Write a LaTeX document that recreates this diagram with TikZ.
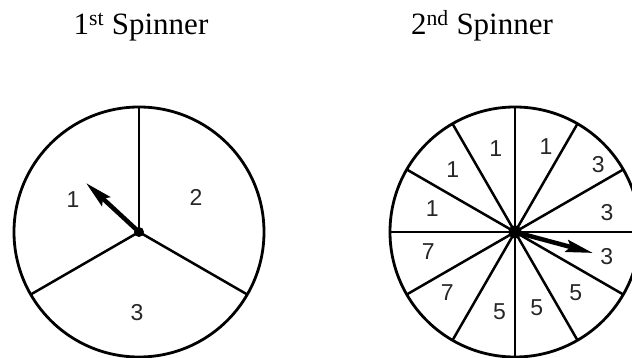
\documentclass[tikz,border=0pt]{standalone}
\usepackage{fontspec}
\setmainfont{Liberation Serif}
\newfontfamily\digitfont{Liberation Sans}
\usepackage{tikz}
\usetikzlibrary{arrows.meta}

\begin{document}
\begin{tikzpicture}[
  x=1pt, y=1pt,
  >={Stealth[length=27pt, width=12pt, inset=4pt]},
  title/.style={font=\fontsize{31}{31}\selectfont, anchor=base},
  wheel/.style={draw=black, line width=2.8pt, circle, minimum size=250pt,
    inner sep=0pt, outer sep=0pt},
  spoke/.style={draw=black, line width=2.5pt},
  number/.style={font=\digitfont\fontsize{23}{23}\selectfont, text=black!85},
  pointer/.style={draw=black, line width=4.5pt, ->},
  hub/.style={fill=black, circle, inner sep=0pt, minimum size=#1},
  hub/.default=10pt,
]

% ---------- Page ----------
\clip (0,0) rectangle (632,358);

% ---------- Titles ----------
\node[title] (t1) at (141,323) {1\textsuperscript{st} Spinner};
\node[title] (t2) at (482,323) {2\textsuperscript{nd} Spinner};

% ---------- 1st spinner (3 sectors) ----------
\node[wheel] (sp1) at (139,126) {};
\foreach \a in {90,210,330}
  \draw[spoke] (sp1.center) -- (sp1.\a);
\node[number] (n11) at (73,158) {1};
\node[number] (n12) at (196,161) {2};
\node[number] (n13) at (137,45) {3};
\coordinate (tip1) at (86,175);
\draw[pointer] (sp1.center) -- (tip1);
\node[hub] (hub1) at (sp1.center) {};

% ---------- 2nd spinner (12 sectors) ----------
\node[wheel] (sp2) at (515,126) {};
\foreach \a in {0,30,...,330}
  \draw[spoke] (sp2.center) -- (sp2.\a);
% angle / radius / value
\foreach \a/\r/\v [count=\i] in {70/91/1,103/86/1,135/88/1,164/86/1,193/89/7,222/91/7,
    259/81/5,286/79/5,315/86/5,345/95/3,12/94/3,39/107/3}
  \node[number] (m\i) at ([shift={(\a:\r)}]sp2.center) {\v};
\coordinate (tip2) at (593,105);
\draw[pointer] (sp2.center) -- (tip2);
\node[hub=13pt] (hub2) at (sp2.center) {};

\end{tikzpicture}
\end{document}
